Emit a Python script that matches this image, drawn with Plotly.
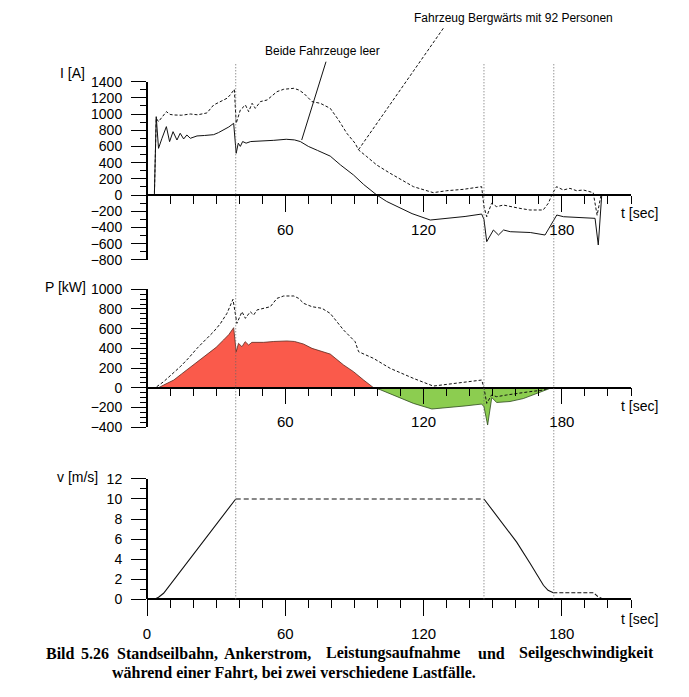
import numpy as np
import plotly.graph_objects as go

# --- data -------------------------------------------------------------------
# armature current I [A], both cars empty (solid)
i_t_leer = [0, 3.2, 4.0, 5.0, 6.5, 8.4, 9.8, 11.3, 13.0, 14.4, 15.9, 17.3, 18.8, 21.7, 25.0,
            28.9, 31.0, 33.2, 35.5, 37.6, 38.7, 39.6, 40.5, 41.5, 43.0, 45.0, 50.6, 55.0, 60.4,
            64.0, 66.5, 70.0, 74.0, 79.5, 84.0, 89.6, 94.0, 99.7, 104.0, 108.4, 115.0, 122.9,
            130.0, 138.0, 145.2, 146.2, 147.4, 150.3, 152.5, 154.7, 157.6, 166.3, 172.7, 174.9,
            177.8, 180.7, 187.9, 194.4, 195.8, 197.3, 200.0]
i_leer = [0, 0, 967, 576, 700, 844, 659, 782, 679, 762, 692, 741, 700, 729, 735,
          745, 770, 803, 840, 885, 515, 640, 600, 660, 640, 660, 665, 675, 688,
          680, 660, 600, 550, 480, 370, 247, 130, 0, -80, -144, -230, -309,
          -290, -265, -235, -300, -576, -432, -494, -432, -453, -463, -494, -380,
          -247, -268, -278, -288, -617, 0, 0]

# armature current I [A], uphill car with 92 persons (dashed)
i_t_92 = [0, 3.2, 4.0, 5.0, 6.5, 8.4, 10.0, 11.6, 15.0, 18.8, 22.0, 26.0, 28.9, 31.8, 34.7,
          36.1, 37.9, 38.7, 40.5, 42.7, 44.1, 45.6, 47.0, 49.2, 52.1, 56.4, 59.3, 63.7, 65.8,
          68.0, 71.6, 75.2, 79.5, 83.1, 86.7, 90.3, 91.8, 95.4, 99.7, 105.5, 115.6, 124.2,
          130.0, 137.3, 145.2, 146.2, 147.4, 149.5, 151.7, 154.6, 157.5, 161.8, 166.1, 171.9,
          174.1, 176.0, 177.7, 180.6, 183.5, 186.4, 189.3, 193.6, 195.3, 197.0, 200.0]
i_92 = [0, 0, 947, 906, 960, 1029, 995, 988, 985, 1000, 990, 1013, 1111, 1153, 1194,
        1235, 1305, 885, 1050, 1111, 1029, 1132, 1070, 1153, 1173, 1276, 1305, 1317, 1297,
        1256, 1153, 1132, 1070, 926, 762, 638, 556, 473, 370, 268, 103, 29,
        53, 70, 103, -144, -268, -103, -144, -124, -144, -165, -185, -185,
        -103, 21, 103, 62, 82, 53, 62, 29, -250, 0, 0]

# power P [kW], both cars empty (filled)
p_t_leer = [0, 5.0, 7.2, 11.6, 15.0, 18.8, 23.0, 27.5, 30.0, 33.2, 35.5, 37.6, 38.7, 39.7,
            41.2, 42.6, 44.1, 45.5, 50.6, 55.0, 60.7, 64.0, 67.9, 71.6, 75.2, 79.5, 85.3,
            89.6, 94.0, 98.3, 101.2, 108.4, 115.6, 123.6, 131.5, 138.0, 145.2, 146.2, 147.8,
            149.6, 151.7, 157.5, 163.3, 169.1, 173.4, 175.6]
p_leer = [0, 0, 27, 78, 140, 207, 280, 366, 410, 485, 540, 610, 366, 451,
          417, 468, 434, 461, 461, 470, 475, 470, 444, 400, 373, 342, 231,
          163, 78, 0, -20, -91, -159, -216, -203, -185, -166, -193, -379,
          -100, -150, -140, -110, -60, -16, 0]

# power P [kW], 92 persons (dashed)
p_t_92 = [0, 3.6, 7.2, 10.8, 14.4, 18.0, 21.7, 25.3, 28.9, 31.8, 34.7, 37.3, 39.0, 41.2,
          42.7, 44.8, 46.3, 47.7, 50.6, 53.5, 56.4, 59.3, 63.7, 65.8, 68.0, 71.6, 75.9,
          79.5, 85.3, 90.3, 91.8, 98.3, 105.5, 115.6, 124.2, 130.0, 137.3, 145.2, 146.2,
          147.4, 149.5, 151.7, 156.0, 160.4, 166.1, 171.9, 174.8, 200.0]
p_92 = [0, 0, 61, 135, 213, 300, 400, 485, 569, 650, 756, 898, 654, 772,
        705, 772, 739, 790, 807, 823, 908, 932, 932, 908, 857, 823, 807,
        755, 586, 468, 366, 298, 197, 95, 17, 35, 61, 78, 0,
        -159, -74, -91, -74, -57, -40, -24, 0, 0]

# rope speed v [m/s]
v_t = [3.2, 5.0, 7.2, 38.5, 146.2, 153.2, 160.4, 166.2, 172.0, 174.0, 176.3, 193.7, 195.5, 198.1]
v_ms = [0, 0.2, 0.6, 10.0, 10.0, 7.9, 5.7, 3.6, 1.4, 0.9, 0.66, 0.66, 0.3, 0]

# phase boundaries (dotted verticals)
t_marks = [38.5, 146.2, 176.5]

# --- page geometry (reference pixels; the page body adds an 8px offset) -----
W, H = 689, 697
OFF = 8
X0, X1 = 147, 631          # t = 0 and t = 210 in reference pixels
PW = X1 - X0


def px2x(px):
    return (px - X0) / PW


def px2y(py):
    return 1 - (py - OFF) / H


# (range, top px, bottom px, major step, minor step, tick values on x)
panels = [
    ([-800, 1400], 81.6, 259.8, 200, 100, [60, 120, 180]),
    ([-400, 1000], 289.3, 427.1, 200, 50, [60, 120, 180]),
    ([0, 12], 478.9, 599.3, 2, 1, [0, 60, 120, 180]),
]

red = "#FA5A4B"
green = "#8CCD50"
sans = "Liberation Sans, Arial, sans-serif"
serif = "Liberation Serif, Times New Roman, serif"

fig = go.Figure()

# current
fig.add_trace(go.Scatter(x=i_t_leer, y=i_leer, xaxis="x", yaxis="y", mode="lines",
                         line=dict(color="#111", width=1)))
fig.add_trace(go.Scatter(x=i_t_92, y=i_92, xaxis="x", yaxis="y", mode="lines",
                         line=dict(color="#111", width=1, dash="3px,2px")))

# power
p_arr = np.array(p_leer, dtype=float)
fig.add_trace(go.Scatter(x=p_t_leer, y=np.maximum(p_arr, 0), xaxis="x2", yaxis="y2",
                         mode="lines", fill="tozeroy", fillcolor=red,
                         line=dict(color="#5a2a20", width=0.8)))
fig.add_trace(go.Scatter(x=p_t_leer, y=np.minimum(p_arr, 0), xaxis="x2", yaxis="y2",
                         mode="lines", fill="tozeroy", fillcolor=green,
                         line=dict(color="#2f4a20", width=0.8)))
fig.add_trace(go.Scatter(x=p_t_92, y=p_92, xaxis="x2", yaxis="y2", mode="lines",
                         line=dict(color="#111", width=1, dash="3px,2px")))

# speed: solid ramps, dashed constant parts
segments = [(0, 3, "solid"), (3, 4, "5px,3px"), (4, 10, "solid"), (10, 13, "4px,2px")]
for a, b, dash in segments:
    fig.add_trace(go.Scatter(x=v_t[a:b + 1], y=v_ms[a:b + 1], xaxis="x3", yaxis="y3",
                             mode="lines", line=dict(color="#111", width=1.1, dash=dash)))

# axes
for n, (rng, top, bot, major, minor, xticks) in enumerate(panels, start=1):
    sfx = "" if n == 1 else str(n)
    d0, d1 = px2y(bot), px2y(top)
    zero_pos = d0 + (0 - rng[0]) / (rng[1] - rng[0]) * (d1 - d0)
    fig.layout["yaxis" + sfx] = dict(
        domain=[d0, d1], range=rng, anchor="free", position=0,
        tickmode="linear", tick0=rng[0], dtick=major,
        ticks="outside", ticklen=15, tickwidth=1.3, tickcolor="black",
        minor=dict(ticks="outside", ticklen=6, tickwidth=1, tickcolor="black",
                   dtick=minor, tick0=rng[0]),
        showline=True, linecolor="black", linewidth=2,
        showgrid=False, zeroline=False, automargin=False,
        tickfont=dict(family=sans, size=14, color="black"), ticklabelstandoff=6,
    )
    fig.layout["xaxis" + sfx] = dict(
        domain=[0, 1], range=[0, 210], anchor="free", position=zero_pos,
        tickmode="array", tickvals=xticks, ticktext=[str(v) for v in xticks],
        ticks="outside", ticklen=16, tickwidth=1.3, tickcolor="black",
        minor=dict(ticks="outside", ticklen=8, tickwidth=1, tickcolor="black",
                   dtick=10, tick0=0),
        showline=True, linecolor="black", linewidth=1.5,
        showgrid=False, zeroline=False, automargin=False,
        tickfont=dict(family=sans, size=15, color="black"), ticklabelstandoff=5,
    )

shapes = []
for t in t_marks:
    shapes.append(dict(type="line", xref="x3", yref="paper", x0=t, x1=t,
                       y0=px2y(599.3), y1=px2y(64),
                       line=dict(color="#666", width=1, dash="1px,2px")))
# leader lines to the curve labels
shapes.append(dict(type="line", xref="paper", yref="paper",
                   x0=px2x(326), y0=px2y(61.7), x1=px2x(301.7), y1=px2y(140),
                   line=dict(color="#111", width=1)))
shapes.append(dict(type="line", xref="paper", yref="paper",
                   x0=px2x(443.3), y0=px2y(28.3), x1=px2x(358.3), y1=px2y(150),
                   line=dict(color="#111", width=1, dash="3px,2px")))

annotations = []


def label(text, px, py, anchor="left", size=14, family=sans):
    annotations.append(dict(text=text, x=px2x(px), y=px2y(py), xref="paper", yref="paper",
                            xanchor=anchor, yanchor="middle", showarrow=False,
                            font=dict(family=family, size=size, color="black")))


label("Beide Fahrzeuge leer", 263, 51, size=12)
label("Fahrzeug Bergwärts mit 92 Personen", 411.7, 18.5, size=12)
label("I [A]", 87, 72.5, anchor="right")
label("P [kW]", 88, 287, anchor="right")
label("v [m/s]", 100, 477, anchor="right")
for py in [212.5, 405.8, 619]:
    label("t [sec]", 619, py)

# caption, first line justified word by word
cap_words = [("Bild", 44, "left"), ("5.26", 79, "left"), ("Standseilbahn,", 115, "left"),
             ("Ankerstrom,", 222, "left"), ("Leistungsaufnahme", 324, "left"),
             ("und", 476, "left"), ("Seilgeschwindigkeit", 656, "right")]
for w, px, anc in cap_words:
    label("<b>" + w + "</b>", px, 653, anchor=anc, size=16, family=serif)
label("<b>während einer Fahrt, bei zwei verschiedene Lastfälle.</b>", 110, 672,
      size=16, family=serif)

fig.update_layout(
    width=W, height=H,
    margin=dict(l=X0 - OFF, r=W - (X1 - OFF), t=0, b=0, pad=0),
    paper_bgcolor="white", plot_bgcolor="white",
    showlegend=False,
    shapes=shapes, annotations=annotations,
)

fig.write_html("out.html")
